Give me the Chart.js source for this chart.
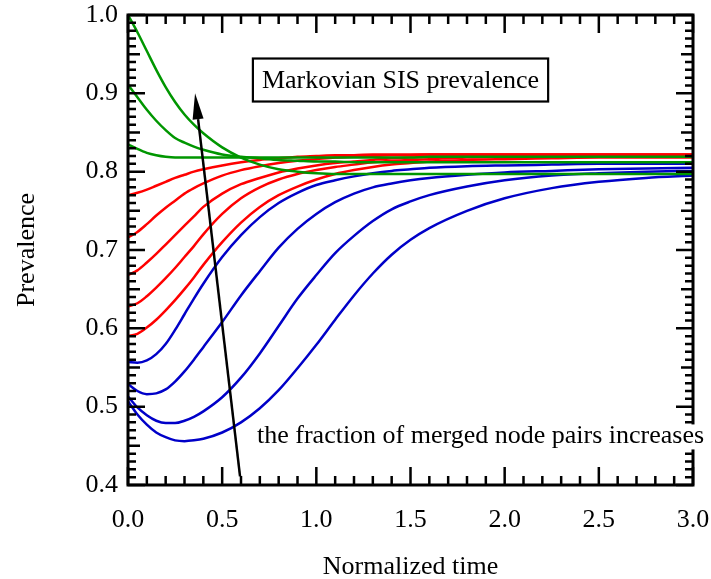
<!DOCTYPE html>
<html>
<head>
<meta charset="utf-8">
<script src="https://cdn.jsdelivr.net/npm/chart.js@4.4.1/dist/chart.umd.min.js"></script>
<style>
  body { margin: 0; background: #fff; }
  #wrap { width: 711px; height: 579px; }
</style>
</head>
<body>
<div id="wrap"><canvas id="chart" width="711" height="579"></canvas></div>
<script>
const timeGrid = [0, 0.05, 0.1, 0.15, 0.2, 0.25, 0.3, 0.35, 0.4, 0.5, 0.6, 0.7, 0.8, 0.9, 1.0,
  1.1, 1.2, 1.3, 1.4, 1.5, 1.6, 1.8, 2.0, 2.25, 2.5, 2.75, 3.0];

// green: start above steady state
const green1 = [1.000, 0.978, 0.954, 0.930, 0.908, 0.889, 0.873, 0.860, 0.849, 0.831, 0.818, 0.809, 0.803, 0.800, 0.798,
  0.797, 0.797, 0.797, 0.797, 0.797, 0.797, 0.797, 0.797, 0.797, 0.797, 0.797, 0.797];
const green2 = [0.911, 0.895, 0.879, 0.865, 0.853, 0.843, 0.837, 0.832, 0.828, 0.822, 0.819, 0.817, 0.815, 0.814, 0.813,
  0.813, 0.812, 0.812, 0.812, 0.812, 0.812, 0.812, 0.812, 0.812, 0.812, 0.812, 0.812];
const green3 = [0.835, 0.829, 0.824, 0.821, 0.819, 0.818, 0.818, 0.818, 0.818, 0.818, 0.818, 0.818, 0.818, 0.818, 0.818,
  0.818, 0.818, 0.818, 0.818, 0.818, 0.819, 0.819, 0.819, 0.819, 0.819, 0.819, 0.819];

// red: start below, rise straight away
const red1 = [0.770, 0.773, 0.777, 0.782, 0.787, 0.792, 0.796, 0.800, 0.803, 0.808, 0.812, 0.815, 0.817, 0.819, 0.820,
  0.821, 0.821, 0.822, 0.822, 0.822, 0.822, 0.822, 0.822, 0.822, 0.822, 0.822, 0.822];
const red2 = [0.716, 0.723, 0.733, 0.744, 0.754, 0.763, 0.772, 0.779, 0.785, 0.795, 0.802, 0.807, 0.811, 0.814, 0.816,
  0.818, 0.819, 0.820, 0.821, 0.821, 0.822, 0.822, 0.822, 0.822, 0.822, 0.822, 0.822];
const red3 = [0.668, 0.674, 0.684, 0.695, 0.707, 0.719, 0.731, 0.743, 0.755, 0.772, 0.784, 0.792, 0.799, 0.804, 0.808,
  0.811, 0.813, 0.815, 0.817, 0.818, 0.819, 0.820, 0.821, 0.821, 0.821, 0.821, 0.821];
const red4 = [0.628, 0.632, 0.641, 0.652, 0.664, 0.677, 0.691, 0.705, 0.720, 0.746, 0.766, 0.780, 0.790, 0.797, 0.802,
  0.806, 0.809, 0.812, 0.814, 0.815, 0.816, 0.818, 0.819, 0.820, 0.820, 0.820, 0.820];
const red5 = [0.590, 0.593, 0.601, 0.611, 0.623, 0.636, 0.650, 0.665, 0.681, 0.710, 0.735, 0.755, 0.770, 0.781, 0.790,
  0.797, 0.802, 0.806, 0.809, 0.811, 0.813, 0.815, 0.816, 0.817, 0.818, 0.818, 0.818];

// blue: dip first, then rise
const blue1 = [0.557, 0.556, 0.559, 0.567, 0.580, 0.598, 0.618, 0.638, 0.657, 0.691, 0.719, 0.742, 0.760, 0.773, 0.783,
  0.789, 0.794, 0.798, 0.801, 0.803, 0.805, 0.807, 0.808, 0.809, 0.810, 0.810, 0.810];
const blue2 = [0.529, 0.520, 0.516, 0.517, 0.522, 0.532, 0.545, 0.560, 0.576, 0.608, 0.642, 0.673, 0.703, 0.727, 0.746,
  0.761, 0.772, 0.780, 0.785, 0.789, 0.792, 0.796, 0.799, 0.801, 0.803, 0.804, 0.805];
const blue3 = [0.513, 0.499, 0.489, 0.482, 0.479, 0.479, 0.482, 0.487, 0.494, 0.512, 0.537, 0.568, 0.603, 0.638, 0.668,
  0.696, 0.718, 0.737, 0.752, 0.762, 0.770, 0.781, 0.789, 0.795, 0.798, 0.800, 0.801];
const blue4 = [0.507, 0.490, 0.477, 0.467, 0.461, 0.457, 0.456, 0.457, 0.459, 0.467, 0.480, 0.498, 0.521, 0.549, 0.579,
  0.611, 0.642, 0.670, 0.694, 0.713, 0.728, 0.750, 0.766, 0.779, 0.787, 0.792, 0.795];

const xTickLabels = ['0.0', '0.5', '1.0', '1.5', '2.0', '2.5', '3.0'];
const yTickLabels = ['0.4', '0.5', '0.6', '0.7', '0.8', '0.9', '1.0'];

const GREEN = 'rgb(0,150,0)';
const RED = 'rgb(255,0,0)';
const BLUE = 'rgb(0,0,200)';
const FONT = '"Liberation Serif", "Times New Roman", serif';

// annotation spots, in data units
const boxLabel = {text: 'Markovian SIS prevalence', x: 1.447, y: 0.917};
const noteLabel = {text: 'the fraction of merged node pairs increases', x: 0.685, y: 0.462};
const arrowFrom = {x: 0.595, y: 0.411};
const arrowTo = {x: 0.356, y: 0.900};

function series(vals, color) {
    return {
        data: vals.map((v, i) => ({x: timeGrid[i], y: v})),
        borderColor: color,
        borderWidth: 2.5,
        pointRadius: 0,
        fill: false,
        cubicInterpolationMode: 'monotone'
    };
}

const extras = {
    id: 'extras',
    afterDatasetsDraw(chart) {
        const {ctx, chartArea: a, scales: {x, y}} = chart;
        ctx.save();
        ctx.strokeStyle = '#000';
        ctx.fillStyle = '#000';

        // arrow
        const x0 = x.getPixelForValue(arrowFrom.x), y0 = y.getPixelForValue(arrowFrom.y);
        const x1 = x.getPixelForValue(arrowTo.x), y1 = y.getPixelForValue(arrowTo.y);
        const ang = Math.atan2(y1 - y0, x1 - x0);
        const headLen = 26, headW = 5.5;
        const bx = x1 - headLen * Math.cos(ang), by = y1 - headLen * Math.sin(ang);
        ctx.lineWidth = 2.5;
        ctx.beginPath();
        ctx.moveTo(x0, y0);
        ctx.lineTo(bx, by);
        ctx.stroke();
        ctx.beginPath();
        ctx.moveTo(x1, y1);
        ctx.lineTo(bx + headW * Math.sin(ang), by - headW * Math.cos(ang));
        ctx.lineTo(bx - headW * Math.sin(ang), by + headW * Math.cos(ang));
        ctx.closePath();
        ctx.fill();

        // inside ticks on all four sides
        ctx.lineWidth = 2.5;
        ctx.beginPath();
        for (let i = 0; i <= 30; i++) {
            const px = x.getPixelForValue(i / 10);
            const len = i % 5 === 0 ? 18 : 9;
            ctx.moveTo(px, a.bottom); ctx.lineTo(px, a.bottom - len);
            ctx.moveTo(px, a.top); ctx.lineTo(px, a.top + len);
        }
        for (let i = 0; i <= 60; i++) {
            const py = y.getPixelForValue(0.4 + i / 100);
            const len = i % 10 === 0 ? 17 : (i % 5 === 0 ? 12 : 8);
            ctx.moveTo(a.left, py); ctx.lineTo(a.left + len, py);
            ctx.moveTo(a.right, py); ctx.lineTo(a.right - len, py);
        }
        ctx.stroke();
        ctx.lineWidth = 3;
        ctx.strokeRect(a.left, a.top, a.width, a.height);

        // boxed label
        ctx.font = '26px ' + FONT;
        ctx.textBaseline = 'middle';
        ctx.textAlign = 'center';
        const cx = x.getPixelForValue(boxLabel.x), cy = y.getPixelForValue(boxLabel.y);
        const w = ctx.measureText(boxLabel.text).width + 18;
        ctx.fillStyle = '#fff';
        ctx.fillRect(cx - w / 2, cy - 21.5, w, 43);
        ctx.lineWidth = 2.2;
        ctx.strokeRect(cx - w / 2, cy - 21.5, w, 43);
        ctx.fillStyle = '#000';
        ctx.fillText(boxLabel.text, cx, cy + 1);

        // note text sits on a white patch that hides the frame behind it
        ctx.textAlign = 'left';
        const nx = x.getPixelForValue(noteLabel.x), ny = y.getPixelForValue(noteLabel.y);
        const nw = ctx.measureText(noteLabel.text).width;
        ctx.fillStyle = '#fff';
        ctx.fillRect(nx - 2, ny - 12, nw + 4, 25);
        ctx.fillStyle = '#000';
        ctx.fillText(noteLabel.text, nx, ny);
        ctx.restore();
    }
};

Chart.defaults.font.family = FONT;
Chart.defaults.color = '#000';

new Chart(document.getElementById('chart'), {
    type: 'line',
    data: {
        datasets: [
            series(green1, GREEN), series(green2, GREEN), series(green3, GREEN),
            series(red1, RED), series(red2, RED), series(red3, RED), series(red4, RED), series(red5, RED),
            series(blue1, BLUE), series(blue2, BLUE), series(blue3, BLUE), series(blue4, BLUE)
        ]
    },
    options: {
        responsive: false,
        animation: false,
        layout: {padding: {top: 15, right: 18, left: 0, bottom: 0}},
        plugins: {legend: {display: false}, tooltip: {enabled: false}},
        scales: {
            x: {
                type: 'linear', min: 0, max: 3,
                grid: {display: false, drawTicks: false},
                border: {display: false},
                ticks: {
                    stepSize: 0.5, padding: 20, font: {size: 26},
                    callback: (v) => xTickLabels[Math.round(v * 2)]
                },
                title: {display: true, text: 'Normalized time', font: {size: 26}, padding: {top: 0, bottom: -4}},
                afterFit: (s) => { s.height = 94; s.paddingLeft = 0; s.paddingRight = 0; }
            },
            y: {
                type: 'linear', min: 0.4, max: 1.0,
                grid: {display: false, drawTicks: false},
                border: {display: false},
                ticks: {
                    stepSize: 0.1, padding: 10, font: {size: 26},
                    callback: (v) => yTickLabels[Math.round((v - 0.4) * 10)]
                },
                title: {display: true, text: 'Prevalence', font: {size: 26}, padding: {top: 12, bottom: 0}},
                afterFit: (s) => { s.width = 128; s.paddingTop = 0; s.paddingBottom = 0; }
            }
        }
    },
    plugins: [extras]
});
</script>
</body>
</html>
